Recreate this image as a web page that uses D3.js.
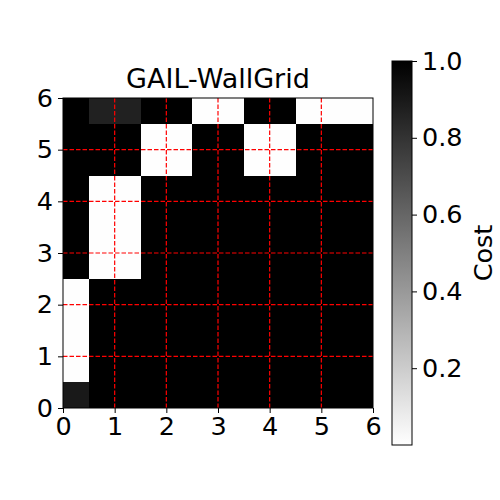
<!DOCTYPE html>
<html>
<head>
<meta charset="utf-8">
<script src="https://cdn.jsdelivr.net/npm/d3@7"></script>
<style>
  body { margin: 0; background: #fff; }
  text { font-family: "DejaVu Sans", sans-serif; fill: #000; }
</style>
</head>
<body>
<div id="chart"></div>
<script>
// cost grid, rows listed from y = 0 (bottom) up to y = 6, columns x = 0..6
const xCells = [0, 1, 2, 3, 4, 5, 6];
const yCells = [0, 1, 2, 3, 4, 5, 6];
const costRows = [
    [0.90, 1, 1, 1, 1, 1, 1],
    [0.005, 1, 1, 1, 1, 1, 1],
    [0.005, 1, 1, 1, 1, 1, 1],
    [1, 0.005, 1, 1, 1, 1, 1],
    [1, 0.005, 1, 1, 1, 1, 1],
    [1, 1, 0.005, 1, 0.005, 1, 1],
    [1, 0.87, 1, 0.005, 1, 0.005, 0.005]
];
const axisTicks = [0, 1, 2, 3, 4, 5, 6];
const cbarTicks = [0.2, 0.4, 0.6, 0.8, 1.0];
const vMin = 0.0, vMax = 1.0;
const title = "GAIL-WallGrid";
const cbarLabel = "Cost";

const width = 500, height = 500;
const margin = { top: 98, left: 63 };
const plotSize = 310;
const fontSize = "25.5px";

const svg = d3.select("#chart")
    .append("svg")
    .attr("width", width)
    .attr("height", height);

const x = d3.scaleLinear().domain([0, 6]).range([margin.left, margin.left + plotSize]);
const y = d3.scaleLinear().domain([0, 6]).range([margin.top + plotSize, margin.top]);

// gray_r colour map
const color = v => {
    const t = Math.max(0, Math.min(1, (v - vMin) / (vMax - vMin)));
    const g = Math.round(255 * (1 - t));
    return `rgb(${g},${g},${g})`;
};

svg.append("clipPath").attr("id", "plotClip")
    .append("rect")
    .attr("x", x(0)).attr("y", y(6))
    .attr("width", plotSize).attr("height", plotSize);

const cells = [];
costRows.forEach((row, j) => row.forEach((v, i) => cells.push({ cx: xCells[i], cy: yCells[j], v })));

svg.append("g")
    .attr("clip-path", "url(#plotClip)")
    .selectAll("rect")
    .data(cells)
    .join("rect")
    .attr("x", d => x(d.cx - 0.5))
    .attr("y", d => y(d.cy + 0.5))
    .attr("width", x(1) - x(0))
    .attr("height", y(0) - y(1))
    .attr("fill", d => color(d.v))
    .attr("shape-rendering", "crispEdges");

// red dashed grid
const grid = svg.append("g")
    .attr("stroke", "red")
    .attr("stroke-width", 1.2)
    .attr("stroke-dasharray", "4.5,2");
grid.selectAll(".gx")
    .data(axisTicks.slice(1, -1))
    .join("line")
    .attr("x1", d => x(d)).attr("x2", d => x(d))
    .attr("y1", y(0)).attr("y2", y(6));
grid.selectAll(".gy")
    .data(axisTicks.slice(1, -1))
    .join("line")
    .attr("y1", d => y(d)).attr("y2", d => y(d))
    .attr("x1", x(0)).attr("x2", x(6));

// axes
const xAxis = svg.append("g")
    .attr("transform", `translate(0,${y(0)})`)
    .call(d3.axisBottom(x).tickValues(axisTicks).tickFormat(d3.format("d")).tickSize(5).tickPadding(4));
const yAxis = svg.append("g")
    .attr("transform", `translate(${x(0)},0)`)
    .call(d3.axisLeft(y).tickValues(axisTicks).tickFormat(d3.format("d")).tickSize(5).tickPadding(5));
[xAxis, yAxis].forEach(a => {
    a.select(".domain").remove();
    a.selectAll("text").style("font-size", fontSize).style("font-family", "DejaVu Sans");
    a.selectAll("line").attr("stroke", "#000");
});

svg.append("rect")
    .attr("x", x(0)).attr("y", y(6))
    .attr("width", plotSize).attr("height", plotSize)
    .attr("fill", "none")
    .attr("stroke", "#000")
    .attr("stroke-width", 1);

svg.append("text")
    .attr("x", x(3))
    .attr("y", 88)
    .attr("text-anchor", "middle")
    .style("font-size", "27px")
    .text(title);

// colorbar
const cb = { x: 392, w: 20, top: 61, bottom: 445 };
const cy = d3.scaleLinear().domain([vMin, vMax]).range([cb.bottom, cb.top]);

const grad = svg.append("defs").append("linearGradient")
    .attr("id", "cbGrad")
    .attr("x1", 0).attr("y1", 1).attr("x2", 0).attr("y2", 0);
grad.selectAll("stop")
    .data(d3.range(0, 1.0001, 0.1))
    .join("stop")
    .attr("offset", d => d)
    .attr("stop-color", d => color(vMin + d * (vMax - vMin)));

svg.append("rect")
    .attr("x", cb.x).attr("y", cb.top)
    .attr("width", cb.w).attr("height", cb.bottom - cb.top)
    .attr("fill", "url(#cbGrad)")
    .attr("stroke", "#000")
    .attr("stroke-width", 1);

const cAxis = svg.append("g")
    .attr("transform", `translate(${cb.x + cb.w},0)`)
    .call(d3.axisRight(cy).tickValues(cbarTicks).tickFormat(d3.format(".1f")).tickSize(5).tickPadding(5));
cAxis.select(".domain").remove();
cAxis.selectAll("text").style("font-size", fontSize).style("font-family", "DejaVu Sans");

svg.append("text")
    .attr("transform", `translate(492,${(cb.top + cb.bottom) / 2}) rotate(-90)`)
    .attr("text-anchor", "middle")
    .style("font-size", fontSize)
    .text(cbarLabel);
</script>
</body>
</html>
